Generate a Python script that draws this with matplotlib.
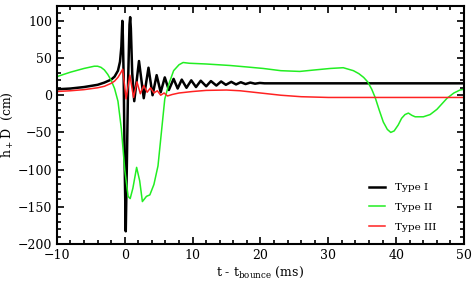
import numpy as np
import matplotlib
matplotlib.use('Agg')
import matplotlib.pyplot as plt
from matplotlib.ticker import MultipleLocator

# Type I (black) : t (ms), h+D (cm)
t_type1 = [-10, -8, -6, -4, -3, -2, -1.5, -1.0, -0.7, -0.5, -0.4, -0.35, -0.28, -0.15,
           0.0, 0.15, 0.3, 0.5, 0.7, 0.8, 0.9, 1.1, 1.4, 1.7,
           2.1, 2.8, 3.5, 4.1, 4.7, 5.3, 5.9, 6.5, 7.2, 7.8, 8.4, 9.1, 9.8, 10.5,
           11.2, 12.0, 12.7, 13.5, 14.2, 14.9, 15.7, 16.4, 17.1, 17.8, 18.5, 19.2,
           19.9, 20.6, 30, 40, 50]
h_type1 = [8, 9, 11, 14, 17, 21, 25, 33, 45, 65, 90, 100, 80, 20,
           -100, -183, -100, 20, 95, 105, 90, 30, -8, 15,
           46, -4, 37, 0, 27, 4, 24, 7, 22, 9, 21, 10, 20, 11,
           19.5, 12, 19, 13, 18.5, 14, 18, 14.5, 17.5, 15, 17, 15.5,
           16.5, 16, 16, 16, 16]

# Type II (green)
t_type2 = [-10, -8, -6, -4.5, -4, -3.5, -3, -2.5, -2, -1.5, -1.0, -0.5, 0.0, 0.5, 0.8,
           1.2, 1.75, 2.2, 2.6, 3.2, 3.7, 4.3, 4.9, 5.4, 5.9, 6.5, 7.2, 8.0, 8.6,
           9.5, 12, 15.5, 18, 20.4, 23, 25.8, 28, 30.3, 32.2, 33.7, 34.5, 35.2,
           35.8, 36.4, 36.9, 37.5, 38.1, 38.7, 39.2, 39.7, 40.3, 40.8, 41.3, 41.8,
           42.3, 42.8, 44, 45, 46, 47, 47.5, 48.5, 49.4, 50]
h_type2 = [25, 31, 36, 39, 39, 37.5, 34, 28, 20, 9, -8, -45, -100, -136, -139,
           -125, -97, -115, -143, -136, -134, -120, -95, -50, -5, 15, 33, 41, 44,
           43, 42, 40, 38, 36, 33, 32, 34, 36, 37, 33, 29, 24,
           18, 8, -3, -20, -36, -46, -50, -48, -40, -31, -26, -24,
           -27, -29, -29, -26, -19, -9, -4, 3, 7, 8]

# Type III (red)
t_type3 = [-10, -8, -6, -4, -3, -2, -1.5, -1.0, -0.6, -0.3, 0.2, 0.75, 1.3,
           1.8, 2.3, 2.8, 3.3, 3.8, 4.3, 4.8, 5.3, 5.8, 6.3, 7.0, 8, 10, 12,
           15, 17, 20, 23, 26, 30, 40, 50]
h_type3 = [5, 6, 7.5, 10, 12, 16, 19, 24, 30, 35, -5, 27, -3,
           18, 2, 13, 4, 10, 3, 6, 0, 3, -1, 1, 3, 5, 6.5,
           7, 6, 3, 0, -2, -3, -3, -3]

plt.rcParams['font.family'] = 'DejaVu Serif'
plt.rcParams['mathtext.fontset'] = 'dejavuserif'

fig = plt.figure(figsize=(4.74, 2.85), dpi=100)
ax = fig.add_axes([0.120, 0.144, 0.859, 0.835])

ax.plot(t_type1, h_type1, color='black', lw=1.8, label='Type I')
ax.plot(t_type2, h_type2, color='#22ee22', lw=1.1, label='Type II')
ax.plot(t_type3, h_type3, color='#ff2222', lw=1.1, label='Type III')

ax.set_xlim(-10, 50)
ax.set_ylim(-200, 120)
ax.xaxis.set_major_locator(MultipleLocator(10))
ax.xaxis.set_minor_locator(MultipleLocator(2))
ax.yaxis.set_major_locator(MultipleLocator(50))
ax.yaxis.set_minor_locator(MultipleLocator(10))
ax.tick_params(which='both', direction='in', top=True, right=True, labelsize=9, width=1.2)
ax.tick_params(which='major', length=5)
ax.tick_params(which='minor', length=3)
for s in ax.spines.values():
    s.set_linewidth(1.5)

ax.set_xlabel(r't - t$_{\rm bounce}$ (ms)', fontsize=9, labelpad=2)
ax.set_ylabel(r'h$_+$D  (cm)', fontsize=9, labelpad=2)

ax.legend(loc='lower right', frameon=False, fontsize=7.5, handlelength=1.5,
          labelspacing=1.0, handletextpad=1.0, bbox_to_anchor=(0.955, 0.012))

fig.savefig('out.png', dpi=100)
